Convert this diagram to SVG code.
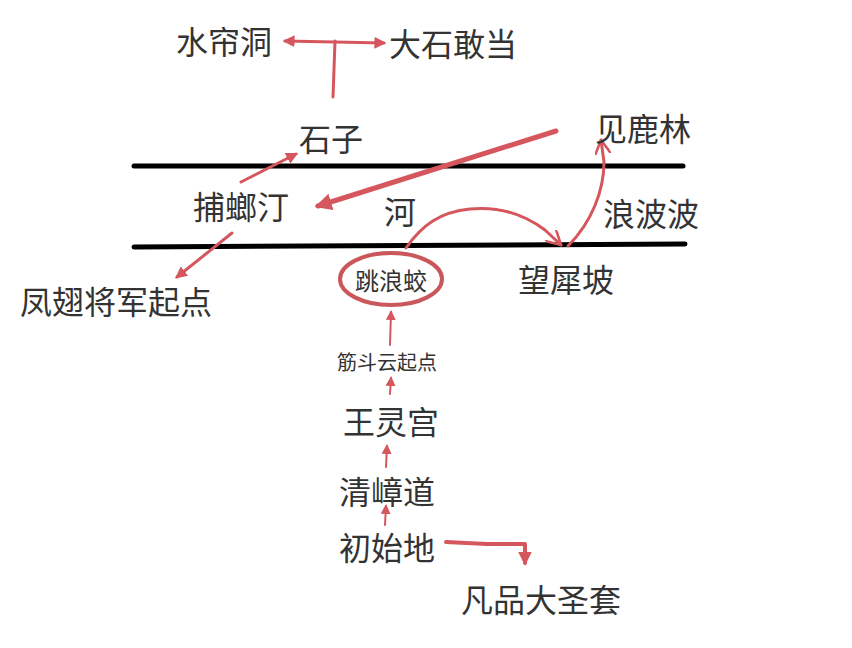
<svg xmlns="http://www.w3.org/2000/svg" width="852" height="648" viewBox="0 0 852 648">
<defs>
<style>
text{font-family:"Noto Sans CJK SC","Noto Sans",sans-serif;fill:#333;dominant-baseline:central;text-anchor:middle}
.big{font-size:32px}
.mid{font-size:24px}
.sm{font-size:20px}
.r{stroke:#d5575d;fill:none;stroke-linecap:round;stroke-linejoin:round}
.w3{stroke-width:3}
.w4{stroke-width:4}
.w5{stroke-width:5}
.w2{stroke-width:2}
.river{stroke:#000;stroke-width:5;stroke-linecap:round}
</style>
<marker id="ah" viewBox="0 0 10 10" refX="8" refY="5" markerWidth="4" markerHeight="4" orient="auto-start-reverse" markerUnits="strokeWidth"><path d="M0,0L10,5L0,10z" fill="#d5575d"/></marker>
<marker id="ahs" viewBox="0 0 10 10" refX="8" refY="5" markerWidth="5" markerHeight="5" orient="auto" markerUnits="strokeWidth"><path d="M0,0L10,5L0,10z" fill="#d5575d"/></marker>
<marker id="ahb" viewBox="0 0 10 10" refX="8" refY="5" markerWidth="3.4" markerHeight="3.4" orient="auto" markerUnits="strokeWidth"><path d="M0,0L10,5L0,10z" fill="#d5575d"/></marker>
<marker id="ahv" viewBox="0 0 10 10" refX="9" refY="5" markerWidth="16" markerHeight="16" orient="auto" markerUnits="userSpaceOnUse"><path d="M0,0L9,5L0,10" fill="none" stroke="#d5575d" stroke-width="1.6" stroke-linecap="round" stroke-linejoin="round"/></marker>
</defs>
<rect width="852" height="648" fill="#fff"/>
<g id="river">
<line class="river" x1="134" y1="166" x2="683" y2="166"/>
<line class="river" x1="134" y1="247" x2="685" y2="244"/>
</g>
<g id="connectors">
<line class="r w3" x1="333" y1="97" x2="335" y2="41"/>
<line class="r w3" x1="285" y1="41" x2="384" y2="43" marker-start="url(#ah)" marker-end="url(#ah)"/>
<line class="r w3" x1="241" y1="182" x2="296" y2="154" marker-end="url(#ah)"/>
<line class="r w5" x1="556" y1="131" x2="318" y2="206" marker-end="url(#ahb)"/>
<line class="r w3" x1="232" y1="233" x2="177" y2="277" marker-end="url(#ah)"/>
<path class="r w3" d="M406,248 C422,225 440,212 470,209 C500,206 525,215 545,230 L561,245" marker-end="url(#ahv)"/>
<path class="r w3" d="M568,246 C592,222 604,190 604,162 L601,140" marker-end="url(#ahv)"/>
<line class="r w2" x1="390" y1="345" x2="391" y2="312" marker-end="url(#ahs)"/>
<line class="r w2" x1="390" y1="394" x2="391" y2="378" marker-end="url(#ahs)"/>
<line class="r w2" x1="386" y1="467" x2="387" y2="446" marker-end="url(#ahs)"/>
<line class="r w2" x1="385" y1="525" x2="386" y2="506" marker-end="url(#ahs)"/>
<path class="r w4" d="M446,542 L487,544 L525,544 L525,563" marker-end="url(#ahb)"/>
</g>
<g id="shuiliandong"><text class="big" x="224" y="40">水帘洞</text></g>
<g id="dashigandang"><text class="big" x="453" y="42">大石敢当</text></g>
<g id="shizi"><text class="big" x="331" y="137">石子</text></g>
<g id="jianlulin"><text class="big" x="643" y="127">见鹿林</text></g>
<g id="bulangting"><text class="big" x="241" y="205">捕螂汀</text></g>
<g id="he"><text class="big" x="400" y="210">河</text></g>
<g id="langbobo"><text class="big" x="651" y="212">浪波波</text></g>
<g id="tiaolangjiao">
<ellipse cx="391" cy="279" rx="51" ry="26" fill="none" stroke="#c9575c" stroke-width="4"/>
<text class="mid" x="391" y="279">跳浪蛟</text>
</g>
<g id="wangxipo"><text class="big" x="566" y="278">望犀坡</text></g>
<g id="fengchi"><text class="big" x="116" y="300">凤翅将军起点</text></g>
<g id="jindouyun"><text class="sm" x="387" y="361">筋斗云起点</text></g>
<g id="wanglinggong"><text class="big" x="391" y="420">王灵宫</text></g>
<g id="qingzhangdao"><text class="big" x="387" y="490">清嶂道</text></g>
<g id="chushidi"><text class="big" x="387" y="546">初始地</text></g>
<g id="fanpin"><text class="big" x="541" y="598">凡品大圣套</text></g>
</svg>
